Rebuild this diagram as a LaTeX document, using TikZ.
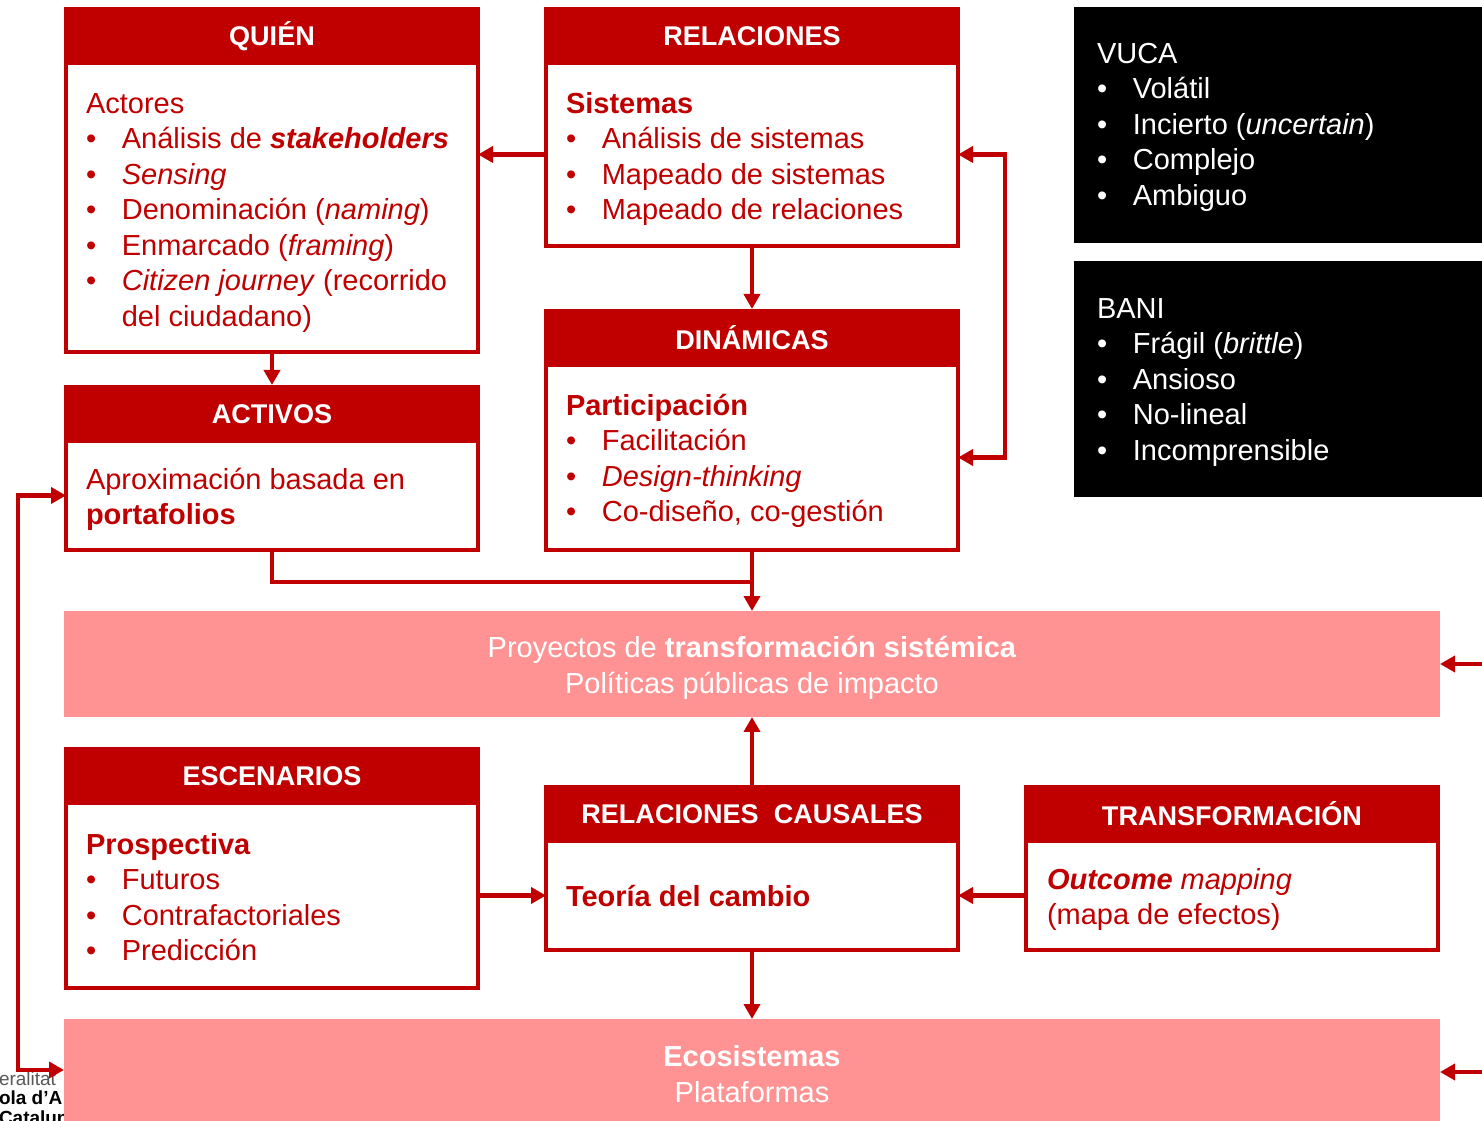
\documentclass[tikz,border=0pt]{standalone}
\usepackage{fontspec}
\setmainfont{Liberation Sans}
\usetikzlibrary{arrows.meta,fit,positioning}
\definecolor{vermell}{RGB}{192,0,0}
\definecolor{rosa}{RGB}{255,147,147}
\newcommand{\itm}{\makebox[20.4pt][l]{•}}
\newcommand{\fl}{\rule{0pt}{16pt}}
\newcommand{\ind}{\hspace*{20.4pt}}

\begin{document}
\begin{tikzpicture}[x=0.02cm, y=-0.02cm,
  every node/.style={inner sep=0pt, outer sep=0pt},
  caixa/.style={draw=vermell, line width=2pt, fill=white},
  capcal/.style={fill=vermell},
  capt/.style={text=white, font=\fontsize{15.4}{18}\selectfont\bfseries},
  cos/.style={anchor=north west, align=left, text=vermell, font=\fontsize{16.5}{20.2}\selectfont},
  negre/.style={fill=black},
  blanc/.style={anchor=north west, align=left, text=white, font=\fontsize{16.5}{20.2}\selectfont},
  banda/.style={fill=rosa},
  bandt/.style={text=white, align=center, font=\fontsize{16.5}{20.2}\selectfont},
  linia/.style={draw=vermell, line width=2.6pt},
  fletxa/.style={linia, -{Triangle[length=0.3cm,width=0.32cm]}},
  fletxes/.style={linia, {Triangle[length=0.3cm,width=0.32cm]}-{Triangle[length=0.3cm,width=0.32cm]}}]
\useasboundingbox (0,0) rectangle (1482,1121);

% Logo (retallat)
\node[anchor=north west, align=left, font=\fontsize{10.8}{10.9}\selectfont] (logo) at (-1,1072)
  {\textcolor{black!65}{eralitat}\\ \textbf{ola d’A}\\ \textbf{Catalun}};

% Quien
\node[caixa, fit={(66,63) (478,352)}] (quienb) {};
\node[capcal, fit={(64,7) (480,65)}, label={[capt]center:QUIÉN}] (quienh) {};
\node[cos] (quient) at (86,85) {\fl Actores\\
  \itm Análisis de \textbf{\textit{stakeholders}}\\
  \itm\textit{Sensing}\\
  \itm Denominación (\textit{naming})\\
  \itm Enmarcado (\textit{framing})\\
  \itm\textit{Citizen journey} (recorrido\\
  \ind del ciudadano)};

% Relaciones
\node[caixa, fit={(546,63) (958,246)}] (relb) {};
\node[capcal, fit={(544,7) (960,65)}, label={[capt]center:RELACIONES}] (relh) {};
\node[cos] (relt) at (566,85) {\fl\textbf{Sistemas}\\
  \itm Análisis de sistemas\\
  \itm Mapeado de sistemas\\
  \itm Mapeado de relaciones};

% Activos
\node[caixa, fit={(66,441) (478,550)}] (activosb) {};
\node[capcal, fit={(64,385) (480,443)}, label={[capt]center:ACTIVOS}] (activosh) {};
\node[cos] (activost) at (86,461) {\fl Aproximación basada en\\ \textbf{portafolios}};

% Dinamicas
\node[caixa, fit={(546,365) (958,550)}] (dinb) {};
\node[capcal, fit={(544,309) (960,367)}, label={[capt]center:DINÁMICAS}] (dinh) {};
\node[cos] (dint) at (566,387) {\fl\textbf{Participación}\\
  \itm Facilitación\\
  \itm\textit{Design-thinking}\\
  \itm Co-diseño, co-gestión};

% VUCA / BANI
\node[negre, fit={(1074,7) (1490,243)}] (vuca) {};
\node[blanc] (vucat) at (1097,35) {\fl VUCA\\
  \itm Volátil\\
  \itm Incierto (\textit{uncertain})\\
  \itm Complejo\\
  \itm Ambiguo};
\node[negre, fit={(1074,261) (1490,497)}] (bani) {};
\node[blanc] (banit) at (1097,290) {\fl BANI\\
  \itm Frágil (\textit{brittle})\\
  \itm Ansioso\\
  \itm No-lineal\\
  \itm Incomprensible};

% Bandes
\node[banda, fit={(64,611) (1440,717)},
  label={[bandt, yshift=-0.08cm]center:{Proyectos de \textbf{transformación sistémica}\\ Políticas públicas de impacto}}] (proj) {};
\node[banda, fit={(64,1019) (1440,1125)},
  label={[bandt, yshift=-0.04cm]center:{\textbf{Ecosistemas}\\ Plataformas}}] (eco) {};

% Escenarios
\node[caixa, fit={(66,803) (478,988)}] (escb) {};
\node[capcal, fit={(64,747) (480,805)}, label={[capt]center:ESCENARIOS}] (esch) {};
\node[cos] (esct) at (86,826) {\fl\textbf{Prospectiva}\\
  \itm Futuros\\
  \itm Contrafactoriales\\
  \itm Predicción};

% Relaciones causales
\node[caixa, fit={(546,841) (958,950)}] (causb) {};
\node[capcal, fit={(544,785) (960,843)}, label={[capt]center:RELACIONES\ \ CAUSALES}] (caush) {};
\node[cos] (caust) at (566,878) {\fl\textbf{Teoría del cambio}};

% Transformacion
\node[caixa, fit={(1026,841) (1438,950)}] (transfb) {};
\node[capcal, fit={(1024,785) (1440,843)}, label={[capt]center:TRANSFORMACIÓN}] (transfh) {};
\node[cos] (transft) at (1047,861) {\fl\textbf{\textit{Outcome}} \textit{mapping}\\ (mapa de efectos)};

% Connexions
\coordinate (uneix) at (752,582);
\coordinate (esq) at (18,780);
\coordinate (vora) at (1490,0);
\draw[fletxa] (relb.west) -- (relb.west -| quienb.east);
\draw[fletxa] (relb.south) -- (dinh.north);
\draw[fletxes] (relb.east) -- ++(47,0) |- (dinb.east);
\draw[fletxa] (quienb.south) -- (activosh.north);
\draw[linia] (activosb.south) |- (uneix);
\draw[fletxa] (dinb.south) -- (proj.north);
\draw[fletxa] (caush.north) -- (proj.south);
\draw[fletxa] (causb.south) -- (eco.north);
\draw[fletxa] (escb.east) -- (causb.west);
\draw[fletxa] (transfb.west) -- (causb.east);
\draw[fletxes] (activosb.west) -| (esq) |- ([yshift=0.04cm]eco.west);
\draw[fletxa] (proj.east -| vora) -- (proj.east);
\draw[fletxa] (eco.east -| vora) -- (eco.east);

\end{tikzpicture}
\end{document}
